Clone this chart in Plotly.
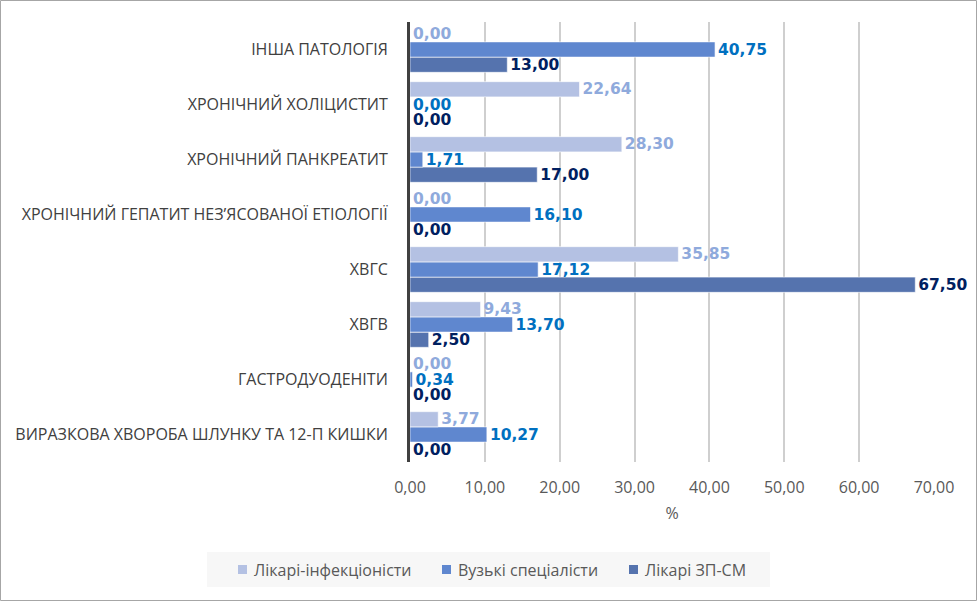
import plotly.graph_objects as go

categories = [
    "ВИРАЗКОВА ХВОРОБА ШЛУНКУ ТА 12-П КИШКИ",
    "ГАСТРОДУОДЕНІТИ",
    "ХВГВ",
    "ХВГС",
    "ХРОНІЧНИЙ ГЕПАТИТ НЕЗ’ЯСОВАНОЇ ЕТІОЛОГІЇ",
    "ХРОНІЧНИЙ ПАНКРЕАТИТ",
    "ХРОНІЧНИЙ ХОЛІЦИСТИТ",
    "ІНША ПАТОЛОГІЯ",
]
infect = [3.77, 0.00, 9.43, 35.85, 0.00, 28.30, 22.64, 0.00]
narrow = [10.27, 0.34, 13.70, 17.12, 16.10, 1.71, 0.00, 40.75]
gp = [0.00, 0.00, 2.50, 67.50, 0.00, 17.00, 0.00, 13.00]
x_ticks = [0, 10, 20, 30, 40, 50, 60, 70]

series = [
    ("Лікарі ЗП-СМ", gp, "#5573AE", "#002060"),
    ("Вузькі спеціалісти", narrow, "#5F87CF", "#0070C0"),
    ("Лікарі-інфекціоністи", infect, "#B4C1E3", "#8FAADC"),
]

fig = go.Figure()
for name, vals, col, tcol in series:
    fig.add_trace(go.Bar(
        y=categories, x=vals, name=name, orientation="h",
        marker=dict(color=col, line=dict(color="rgba(255,255,255,0.6)", width=1)),
        texttemplate="<b>%{x:.2f}</b>", textposition="outside",
        constraintext="none",
        textfont=dict(color=tcol, size=15.5, family="DejaVu Sans"),
        cliponaxis=False, showlegend=False,
    ))

L, R, T, B = 410, 43, 22, 139
W, H = 977, 601
pw, ph = W - L - R, H - T - B


def px(x):
    return (x - L) / pw


def py(y):
    return (H - B - y) / ph


shapes = [
    dict(type="rect", xref="paper", yref="paper",
         x0=px(0.5), x1=px(W - 0.5), y0=py(H - 0.5), y1=py(0.5),
         line=dict(color="#A6A6A6", width=1), layer="below"),
    dict(type="rect", xref="paper", yref="paper",
         x0=px(207), x1=px(770), y0=py(587), y1=py(552),
         line=dict(width=0), fillcolor="#F7F7F7", layer="below"),
]
annotations = []
legend_pos = [(238, 252), (442, 456), (629, 643)]
for (name, vals, col, tcol), (mx, tx) in zip(reversed(series), legend_pos):
    shapes.append(dict(type="rect", xref="paper", yref="paper",
                       x0=px(mx), x1=px(mx + 9), y0=py(574), y1=py(565),
                       line=dict(width=0), fillcolor=col))
    annotations.append(dict(text=name, xref="paper", yref="paper",
                            x=px(tx), y=py(569.5), xanchor="left", yanchor="middle",
                            showarrow=False,
                            font=dict(size=16, color="#595959", family="Open Sans")))

fig.update_layout(
    width=W, height=H,
    margin=dict(l=L, r=R, t=T, b=B, autoexpand=False),
    barmode="group", bargap=0.17, bargroupgap=0.0,
    separators=",.",
    plot_bgcolor="white", paper_bgcolor="white",
    font=dict(family="Open Sans", color="#404040", size=16),
    showlegend=False,
    xaxis=dict(
        range=[0, 70], tickvals=x_ticks, tickformat=".2f",
        showgrid=True, gridcolor="#CFCFCF", gridwidth=2, zeroline=False,
        tickfont=dict(size=16, color="#595959"),
        title=dict(text="%", font=dict(size=16, color="#595959"), standoff=10),
        ticks="", ticklabelstandoff=14,
    ),
    yaxis=dict(
        showline=True, linecolor="#404040", linewidth=3,
        tickfont=dict(size=16, color="#404040"),
        ticks="", ticklabelstandoff=16,
    ),
    shapes=shapes,
    annotations=annotations,
)

fig.write_html("out.html", config={"displayModeBar": False},
               post_script="document.body.style.margin='0';")
